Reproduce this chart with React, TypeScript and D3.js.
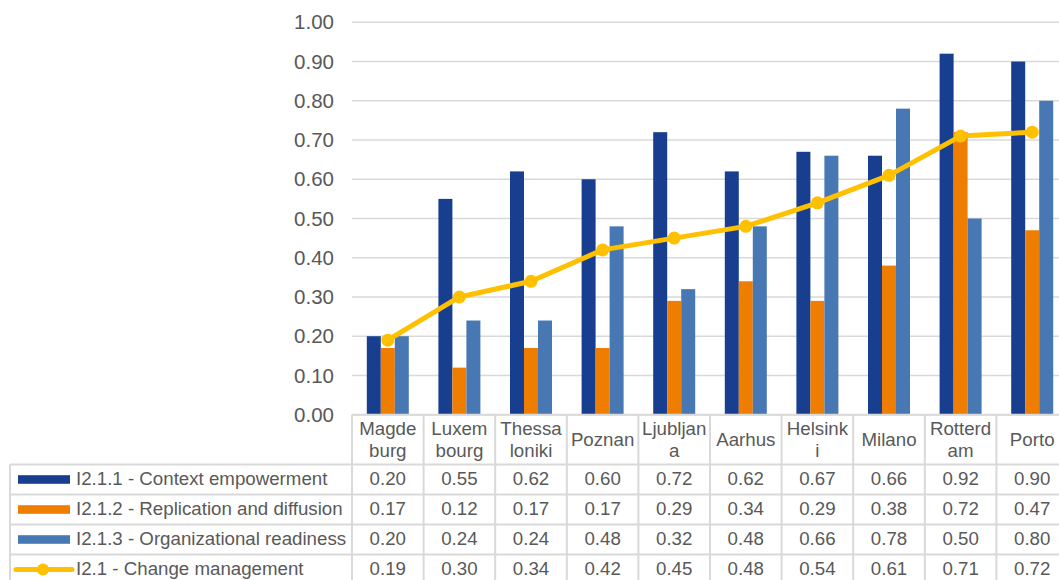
import React from "react";
import * as d3 from "d3";

const categories = ["Magdeburg", "Luxembourg", "Thessaloniki", "Poznan", "Ljubljana", "Aarhus", "Helsinki", "Milano", "Rotterdam", "Porto"];
const categoryLines = [["Magde", "burg"], ["Luxem", "bourg"], ["Thessa", "loniki"], ["Poznan"], ["Ljubljan", "a"], ["Aarhus"], ["Helsink", "i"], ["Milano"], ["Rotterd", "am"], ["Porto"]];

const contextEmpowerment = [0.20, 0.55, 0.62, 0.60, 0.72, 0.62, 0.67, 0.66, 0.92, 0.90];
const replicationDiffusion = [0.17, 0.12, 0.17, 0.17, 0.29, 0.34, 0.29, 0.38, 0.72, 0.47];
const organizationalReadiness = [0.20, 0.24, 0.24, 0.48, 0.32, 0.48, 0.66, 0.78, 0.50, 0.80];
const changeManagement = [0.19, 0.30, 0.34, 0.42, 0.45, 0.48, 0.54, 0.61, 0.71, 0.72];

const yTicks = [0, 0.1, 0.2, 0.3, 0.4, 0.5, 0.6, 0.7, 0.8, 0.9, 1.0];

const barSeries = [
  { name: "I2.1.1 - Context empowerment", values: contextEmpowerment, color: "#183F8F" },
  { name: "I2.1.2 - Replication and diffusion", values: replicationDiffusion, color: "#EF7D00" },
  { name: "I2.1.3 - Organizational readiness", values: organizationalReadiness, color: "#4878B4" },
];
const lineSeries = { name: "I2.1 - Change management", values: changeManagement, color: "#FFC000" };

const W = 1059;
const H = 580;
const plotLeft = 352;
const cellW = 71.6;
const plotRight = plotLeft + cellW * categories.length;
const yTop = 22.3;
const yBottom = 414.7;
const tableLeft = 10;
const headerBottom = 464.5;
const rowH = 30;
const FONT = "'Liberation Sans', Arial, sans-serif";
const TEXT = "#595959";
const GRID = "#D9D9D9";

export default function App() {
  const x = d3.scaleBand<string>().domain(categories).range([plotLeft, plotRight]).padding(0);
  const y = d3.scaleLinear().domain([0, 1]).range([yBottom, yTop]);
  const x1 = d3.scaleBand<string>().domain(barSeries.map((s) => s.name)).range([0, 42]).padding(0);
  const cx = (c: string) => (x(c) as number) + x.bandwidth() / 2;

  const line = d3
    .line<number>()
    .x((_, i) => cx(categories[i]))
    .y((d) => y(d));

  const allRows = [...barSeries.map((s) => ({ ...s, kind: "bar" })), { ...lineSeries, kind: "line" }];

  return (
    <svg width={W} height={H} style={{ position: "absolute", left: 0, top: 0, background: "#fff" }} fontFamily={FONT}>
      {yTicks.map((t) => (
        <line key={t} x1={plotLeft} x2={plotRight} y1={y(t)} y2={y(t)} stroke={GRID} strokeWidth={1.6} />
      ))}
      {yTicks.map((t) => (
        <text key={"l" + t} x={334} y={y(t)} dy="0.35em" textAnchor="end" fontSize={20.5} fill={TEXT}>
          {t.toFixed(2)}
        </text>
      ))}
      {barSeries.map((s) =>
        s.values.map((v, i) => {
          const c = categories[i];
          const bx = cx(c) - 21 + (x1(s.name) as number);
          return <rect key={s.name + i} x={bx} y={y(v)} width={x1.bandwidth()} height={y(0) - y(v)} fill={s.color} />;
        })
      )}
      <path d={line(lineSeries.values) || ""} fill="none" stroke={lineSeries.color} strokeWidth={5} strokeLinejoin="round" />
      {lineSeries.values.map((v, i) => (
        <circle key={"m" + i} cx={cx(categories[i])} cy={y(v)} r={6.5} fill={lineSeries.color} />
      ))}

      <g stroke={GRID} strokeWidth={2}>
        <line x1={plotLeft} x2={plotRight} y1={yBottom} y2={yBottom} />
        {[0, 1, 2, 3, 4].map((r) => (
          <line key={"h" + r} x1={tableLeft} x2={plotRight} y1={headerBottom + r * rowH} y2={headerBottom + r * rowH} />
        ))}
        <line x1={tableLeft} x2={tableLeft} y1={headerBottom} y2={H + 10} />
        {d3.range(categories.length + 1).map((i) => (
          <line key={"v" + i} x1={plotLeft + i * cellW} x2={plotLeft + i * cellW} y1={yBottom} y2={H + 10} />
        ))}
      </g>

      {categories.map((c, i) => {
        const lines = categoryLines[i];
        const mid = (yBottom + headerBottom) / 2;
        const lh = 22.5;
        return (
          <text key={"c" + c} textAnchor="middle" fontSize={18.7} fill={TEXT}>
            {lines.map((ln, j) => (
              <tspan key={j} x={cx(c)} y={mid + (j - (lines.length - 1) / 2) * lh} dy="0.35em">
                {ln}
              </tspan>
            ))}
          </text>
        );
      })}

      {allRows.map((s, r) => {
        const my = headerBottom + r * rowH + rowH / 2;
        return (
          <g key={"r" + r}>
            {s.kind === "bar" ? (
              <rect x={18} y={my - 4.3} width={52} height={8.6} fill={s.color} />
            ) : (
              <g>
                <line x1={16} x2={72} y1={my} y2={my} stroke={s.color} strokeWidth={5} strokeLinecap="round" />
                <circle cx={43} cy={my} r={6} fill={s.color} />
              </g>
            )}
            <text x={76} y={my} dy="0.3em" fontSize={18.7} fill={TEXT}>
              {s.name}
            </text>
            {s.values.map((v, i) => (
              <text key={i} x={cx(categories[i])} y={my} dy="0.3em" textAnchor="middle" fontSize={18.7} fill={TEXT}>
                {v.toFixed(2)}
              </text>
            ))}
          </g>
        );
      })}
    </svg>
  );
}
